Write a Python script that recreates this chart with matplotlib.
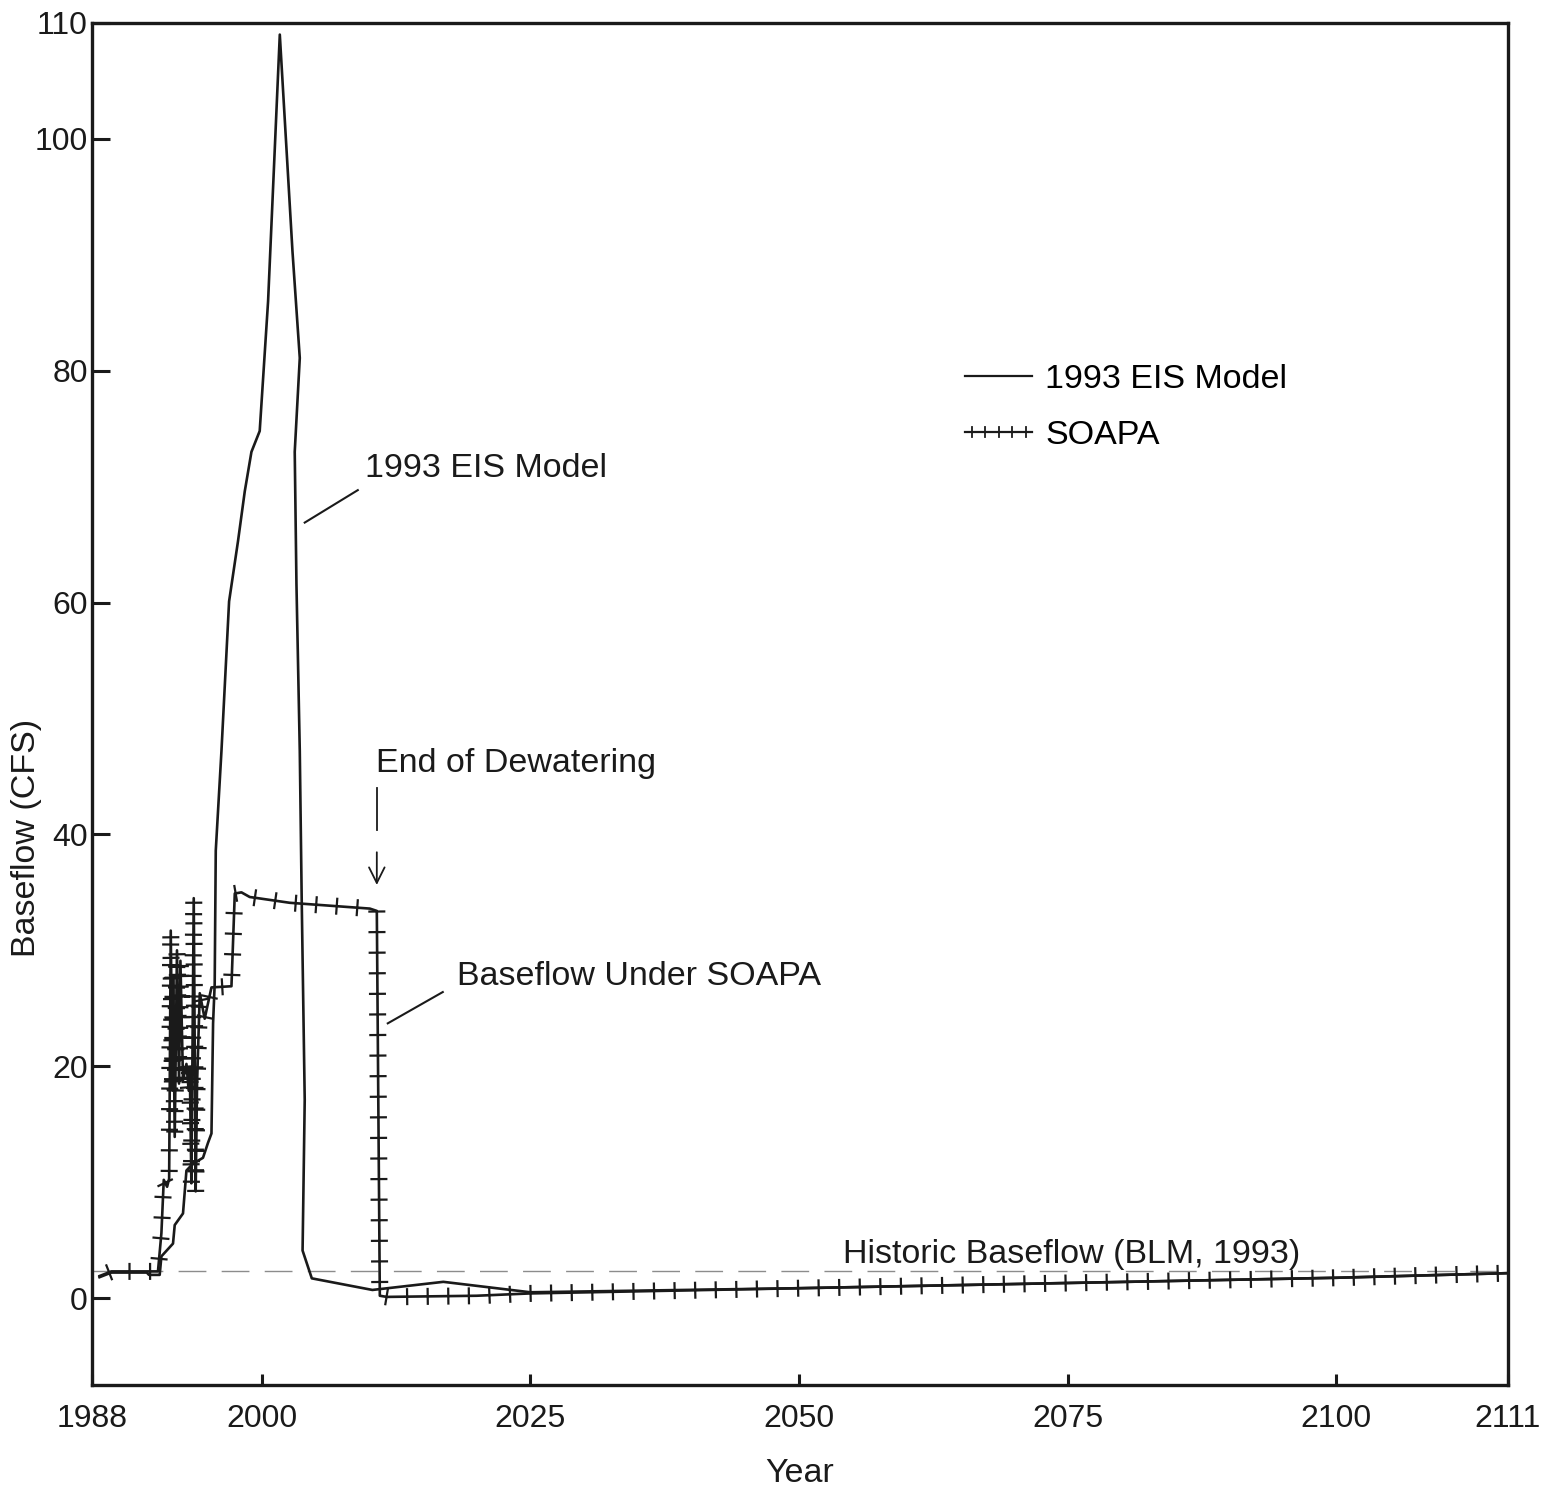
import matplotlib
matplotlib.use("Agg")
import matplotlib.pyplot as plt
from matplotlib.lines import Line2D
from matplotlib import patheffects

plt.rcParams['font.family'] = ['Liberation Sans', 'DejaVu Sans']

# eje x: los bordes del gráfico están rotulados 1988 y 2111
x_left, x_right = 1984.2, 2116.0
tick_years = [x_left, 2000, 2025, 2050, 2075, 2100, x_right]
tick_names = ["1988", "2000", "2025", "2050", "2075", "2100", "2111"]
y_ticks = [0, 20, 40, 60, 80, 100, 110]

# 1993 EIS Model
eis_year = [1984.9, 1986.0, 1989.3, 1989.5, 1990.5, 1990.66, 1991.74, 1991.9, 1992.67,
            1992.99, 1993.6, 1994.53, 1995.0, 1995.32, 1995.47, 1995.62, 1995.72, 1996.25,
            1996.96, 1997.79, 1998.42, 1999.04, 1999.81, 2000.59, 2001.68, 2002.86, 2003.54,
            2003.07, 2003.23, 2003.54, 2003.72, 2004.0, 2003.8, 2004.66, 2010.3, 2016.9,
            2025.0, 2050.0, 2075.0, 2100.0, 2116.0]
eis_flow = [1.8, 2.2, 2.2, 2.0, 2.0, 3.6, 4.7, 6.3, 7.3,
            11.0, 11.6, 12.1, 13.4, 14.2, 23.7, 27.1, 38.6, 47.2,
            60.1, 65.3, 69.6, 73.0, 74.8, 86.0, 109.0, 90.3, 81.1,
            73.0, 61.6, 47.2, 34.3, 17.1, 4.1, 1.7, 0.7, 1.4,
            0.5, 0.85, 1.3, 1.75, 2.15]

# SOAPA
soapa_year = [1984.9, 1986.0, 1990.34, 1990.66, 1990.88, 1991.19, 1991.38, 1991.53, 1991.69,
              1991.75, 1991.9, 1992.11, 1992.3, 1992.43, 1992.67, 1992.99, 1993.2, 1993.3,
              1993.45, 1993.67, 1993.85, 1993.98, 1994.23, 1994.69, 1994.85, 1995.32, 1997.18,
              1997.49, 1998.11, 1998.88, 2002.61, 2010.06, 2010.71, 2010.99, 2011.64, 2020.0,
              2025.0, 2050.0, 2075.0, 2100.0, 2116.0]
soapa_flow = [1.9, 2.3, 2.3, 5.6, 10.2, 9.6, 10.3, 31.7, 17.9,
              27.7, 13.9, 30.0, 18.5, 29.1, 18.8, 20.2, 17.9, 19.9,
              9.9, 34.5, 9.2, 18.5, 26.3, 24.1, 24.8, 26.8, 26.9,
              34.9, 35.0, 34.6, 34.1, 33.6, 33.4, 0.2, 0.1, 0.2,
              0.4, 0.85, 1.3, 1.75, 2.15]

historic = 2.3
dewatering_end = 2010.71

ink = "#1a1a1a"
fs = 24.5


def ticked(spacing, length, lw):
    # marcas perpendiculares a ambos lados de la línea
    return [patheffects.TickedStroke(spacing=spacing, angle=90, length=length, linewidth=lw),
            patheffects.TickedStroke(spacing=spacing, angle=-90, length=length, linewidth=lw),
            patheffects.Normal()]


fig = plt.figure(figsize=(15.6, 14.93), dpi=100)
ax = fig.add_axes([92/1560, 1 - 1385/1493, 1416/1560, 1362/1493])

ax.axhline(historic, color="#8c8c8c", lw=1.0, dashes=(20, 11), zorder=1)
ax.plot(eis_year, eis_flow, color=ink, lw=1.9, zorder=3)
ax.plot(soapa_year, soapa_flow, color=ink, lw=1.9, zorder=4,
        path_effects=ticked(14.8, 0.36, 1.6))

# anotaciones
ax.text(2009.6, 71.6, "1993 EIS Model", fontsize=fs, va='center', ha='left', color=ink)
ax.plot([2004.0, 2008.94], [66.9, 69.7], color=ink, lw=1.5)
ax.text(2018.16, 27.7, "Baseflow Under SOAPA", fontsize=fs, va='center', ha='left', color=ink)
ax.plot([2011.73, 2016.85], [23.7, 26.4], color=ink, lw=1.5)
ax.text(2010.61, 46.1, "End of Dewatering", fontsize=fs, va='center', ha='left', color=ink)
ax.plot([dewatering_end, dewatering_end], [44.0, 40.4], color=ink, lw=1.3)
ax.annotate("", xy=(dewatering_end, 35.4), xytext=(dewatering_end, 38.7),
            arrowprops=dict(arrowstyle='->', lw=1.3, color=ink, mutation_scale=28))
ax.text(2054.1, 3.8, "Historic Baseflow (BLM, 1993)", fontsize=fs, va='center', ha='left', color=ink)

ax.set_xlim(x_left, x_right)
ax.set_ylim(-7.5, 110)
ax.set_xticks(tick_years)
ax.set_xticklabels(tick_names)
ax.set_yticks(y_ticks)
ax.tick_params(axis='both', direction='in', width=2.2, colors=ink, labelsize=23)
ax.tick_params(axis='x', length=8, pad=14)
ax.tick_params(axis='y', length=13, pad=3)
for s in ax.spines.values():
    s.set_linewidth(2.4)
    s.set_color(ink)

ax.set_xlabel("Year", fontsize=fs, color=ink, labelpad=17)
ax.set_ylabel("Baseflow (CFS)", fontsize=fs, color=ink)
ax.yaxis.set_label_coords(-0.035, 0.4016)

handles = [Line2D([], [], color=ink, lw=1.6),
           Line2D([], [], color=ink, lw=1.6, path_effects=ticked(9.4, 0.38, 1.3))]
ax.legend(handles, ["1993 EIS Model", "SOAPA"], loc='upper left', bbox_to_anchor=(0.6167, 0.7496),
          frameon=False, fontsize=fs, handlelength=1.97, handletextpad=0.38,
          borderpad=0, borderaxespad=0, labelspacing=0.73)

fig.savefig("out.png", dpi=100)
